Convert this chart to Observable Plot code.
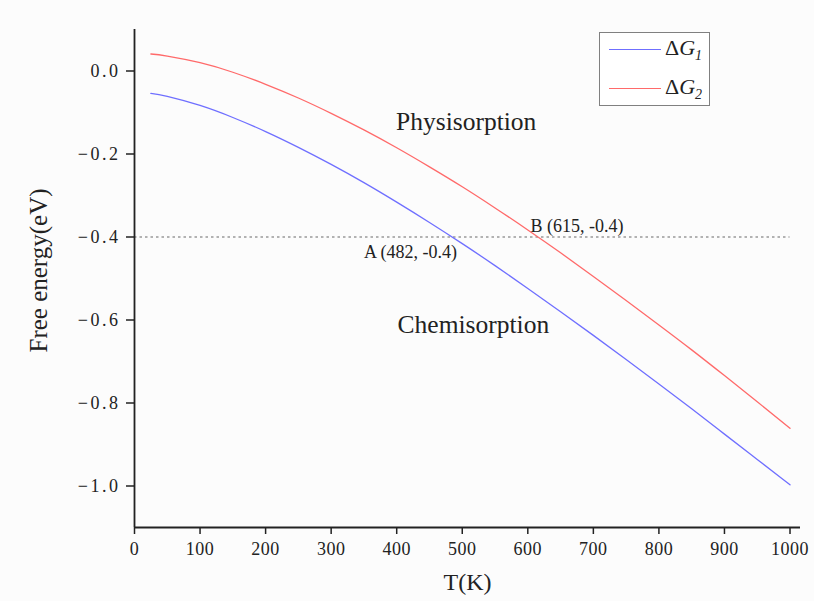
<!DOCTYPE html>
<html>
<head>
<meta charset="utf-8">
<script src="https://cdn.jsdelivr.net/npm/d3@7"></script>
<script src="https://cdn.jsdelivr.net/npm/@observablehq/plot@0.6"></script>
<style>
  body { margin: 0; background: #fcfcfc; }
  #wrap { position: relative; width: 814px; height: 601px; font-family: "Liberation Serif", "Times New Roman", serif; }
  #wrap svg { font-family: "Liberation Serif", "Times New Roman", serif; }
  #wrap svg [aria-label="y-axis tick label"] text { letter-spacing: 2.5px; }
  #wrap svg [aria-label="x-axis tick label"] text { letter-spacing: 0.5px; }
  #legend { position: absolute; left: 599px; top: 32px; width: 109px; height: 72px; border: 1.5px solid #808080; background: #fff; font-family: "Liberation Serif", serif; font-size: 22px; color: #222; }
  .row { position: absolute; left: 9px; display: flex; align-items: center; }
  .sw { width: 52px; height: 0; border-top: 1.3px solid; margin-right: 4px; }
</style>
</head>
<body>
<div id="wrap"></div>
<script>
// Temperature (K)
const T = [25, 50, 100, 150, 200, 250, 300, 350, 400, 450, 500, 550, 600, 650, 700, 750, 800, 850, 900, 950, 1000];
// ΔG1 (eV)
const dG1 = [-0.054, -0.061, -0.083, -0.112, -0.146, -0.184, -0.225, -0.269, -0.316, -0.365, -0.416, -0.469, -0.524, -0.580, -0.637, -0.695, -0.754, -0.814, -0.875, -0.936, -0.997];
// ΔG2 (eV)
const dG2 = [0.041, 0.036, 0.020, -0.003, -0.032, -0.065, -0.102, -0.142, -0.185, -0.231, -0.279, -0.330, -0.383, -0.438, -0.495, -0.553, -0.612, -0.672, -0.734, -0.797, -0.861];
const seriesNames = ["ΔG1", "ΔG2"];
const seriesColors = ["#6f6fff", "#ff6a6a"];
const xTicks = [0, 100, 200, 300, 400, 500, 600, 700, 800, 900, 1000];
const yTicks = [0.0, -0.2, -0.4, -0.6, -0.8, -1.0];
const threshold = -0.4;
const regionLabels = [
  {text: "Physisorption", x: 506, y: -0.122},
  {text: "Chemisorption", x: 517, y: -0.612}
];
const pointLabels = [
  {text: "A (482, -0.4)", x: 350, y: -0.437},
  {text: "B (615, -0.4)", x: 604, y: -0.375}
];

const rows = [];
T.forEach((t, i) => {
  rows.push({T: t, G: dG1[i], s: seriesNames[0]});
  rows.push({T: t, G: dG2[i], s: seriesNames[1]});
});

const fmtY = d => (d < 0 ? "\u2212" : "") + Math.abs(d).toFixed(1);
const fmtX = d => String(d);

const chart = Plot.plot({
  width: 814,
  height: 601,
  marginLeft: 134,
  marginRight: 14,
  marginTop: 29,
  marginBottom: 74,
  style: {background: "transparent", fontFamily: "'Liberation Serif', serif", color: "#222"},
  x: {domain: [0, 1016], ticks: xTicks, label: null},
  y: {domain: [-1.1, 0.1], ticks: yTicks, label: null},
  color: {domain: seriesNames, range: seriesColors},
  marks: [
    Plot.ruleY([threshold], {x1: 0, x2: 1000, stroke: "#999", strokeDasharray: "2.5,3", strokeWidth: 1.3}),
    Plot.line(rows, {x: "T", y: "G", z: "s", stroke: "s", strokeWidth: 1.3, curve: "natural"}),
    Plot.axisX({ticks: xTicks, tickSize: 7, tickPadding: 8, fontSize: 18, tickFormat: fmtX, stroke: "#222", strokeWidth: 1.5, label: null}),
    Plot.axisY({ticks: yTicks, tickSize: 8, tickPadding: 6, fontSize: 18, tickFormat: fmtY, stroke: "#222", strokeWidth: 1.5, label: null}),
    Plot.ruleX([0], {stroke: "#222", strokeWidth: 1.8}),
    Plot.ruleY([-1.1], {stroke: "#222", strokeWidth: 1.8}),
    Plot.text(regionLabels, {x: "x", y: "y", text: "text", fontSize: 25.5, fill: "#222"}),
    Plot.text(pointLabels, {x: "x", y: "y", text: "text", fontSize: 18, textAnchor: "start", fill: "#222"}),
    Plot.text(["T(K)"], {frameAnchor: "bottom", lineAnchor: "middle", dy: 55, fontSize: 24, fill: "#222"}),
    Plot.text(["Free energy(eV)"], {frameAnchor: "left", textAnchor: "middle", lineAnchor: "middle", dx: -96, dy: -8, rotate: -90, fontSize: 25, fill: "#222"})
  ]
});

const wrap = document.getElementById("wrap");
wrap.appendChild(chart);
const legend = document.createElement("div");
legend.id = "legend";
legend.innerHTML = seriesNames.map((n, i) =>
  `<div class="row" style="top:${i === 0 ? 2 : 41}px"><span class="sw" style="border-color:${seriesColors[i]}"></span><span>Δ<i>G</i><sub style="font-size:14px;font-style:italic">${n.slice(2)}</sub></span></div>`
).join("");
wrap.appendChild(legend);
</script>
</body>
</html>
